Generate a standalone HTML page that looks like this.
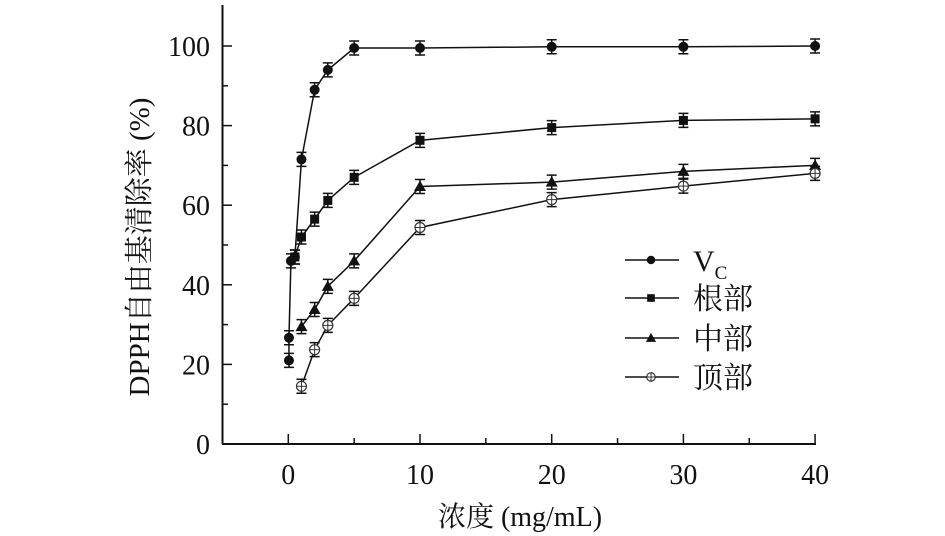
<!DOCTYPE html>
<html><head><meta charset="utf-8"><style>
body{margin:0;background:#fff}
svg{display:block}
text{font-family:"Liberation Serif","Noto Serif CJK SC",serif;fill:#111}
</style></head><body>
<svg id="c" width="945" height="536" viewBox="0 0 945 536"></svg>
<script>
const xTicks=[0,10,20,30,40];
const yTicks=[0,20,40,60,80,100];
const seriesNames=["V","根部","中部","顶部"];
const vcX=[0.05,0.05,0.2,0.5,1,2,3,5,10,20,30,40];
const vcY=[21,26.7,46,47,71.5,89,94,99.5,99.5,99.8,99.8,100];
const rootX=[0.5,1,2,3,5,10,20,30,40];
const rootY=[47,52,56.5,61.2,67,76.3,79.5,81.3,81.7];
const midX=[1,2,3,5,10,20,30,40];
const midY=[29.5,33.8,39.6,46,64.7,65.8,68.5,70];
const topX=[1,2,3,5,10,20,30,40];
const topY=[14.5,23.7,29.8,36.6,54.4,61.4,64.8,68];
const NS="http://www.w3.org/2000/svg";
const svg=document.getElementById('c');
const X=v=>288.3+v*13.17, Y=v=>444-v*3.98;
function mk(t,a,p){const e=document.createElementNS(NS,t);for(const k in a)e.setAttribute(k,a[k]);(p||svg).appendChild(e);return e;}
let ax=mk('g',{});


mk('line',{x1:222.5,y1:5,x2:222.5,y2:444,stroke:'#111','stroke-width':2},ax);
mk('line',{x1:222,y1:444,x2:816,y2:444,stroke:'#111','stroke-width':2},ax);
for(let v=0;v<=100;v+=10){mk('line',{x1:222,y1:Y(v),x2:v%20?228:232,y2:Y(v),stroke:'#111','stroke-width':1.5},ax);}
yTicks.forEach(v=>{const t=mk('text',{x:210,y:Y(v)+10,'text-anchor':'end','font-size':28},ax);t.textContent=v;

});
for(let v=-5;v<=40;v+=5){mk('line',{x1:X(v),y1:444,x2:X(v),y2:v%10?438:434,stroke:'#111','stroke-width':1.5},ax);}
xTicks.forEach(v=>{const t=mk('text',{x:X(v),y:484,'text-anchor':'middle','font-size':28},ax);t.textContent=v;

});
let xt=mk('text',{x:520,y:526,'text-anchor':'middle','font-size':28});xt.textContent='浓度 (mg/mL)';


let yt=mk('text',{x:0,y:0,'text-anchor':'middle','font-size':29,transform:'translate(149,247) rotate(-90)'});yt.textContent='DPPH自由基清除率 (%)';


function marker(type,cx,cy,g,s){
 s=s||1;
 if(type==='c')mk('circle',{cx,cy,r:5*s,fill:'#111'},g);
 else if(type==='s')mk('rect',{x:cx-4.5*s,y:cy-4.5*s,width:9*s,height:9*s,fill:'#111'},g);
 else if(type==='t')mk('polygon',{points:`${cx},${cy-6*s} ${cx-6*s},${cy+4.5*s} ${cx+6*s},${cy+4.5*s}`,fill:'#111'},g);
 else{mk('circle',{cx,cy,r:5*s,fill:'#fff',stroke:'#333','stroke-width':1.2},g);mk('line',{x1:cx-5*s,y1:cy,x2:cx+5*s,y2:cy,stroke:'#333','stroke-width':1},g);mk('line',{x1:cx,y1:cy-5*s,x2:cx,y2:cy+5*s,stroke:'#333','stroke-width':1},g);}
}
const all=[[vcX,vcY,'c','series-vc'],[rootX,rootY,'s','series-root'],[midX,midY,'t','series-middle'],[topX,topY,'o','series-top']];
all.forEach(([xs,ys,m,n])=>{
 const g=mk('g',{});
 
 
 mk('polyline',{points:xs.map((x,i)=>X(x)+','+Y(ys[i])).join(' '),fill:'none',stroke:'#111','stroke-width':1.5},g);
 xs.forEach((x,i)=>{const cx=X(x),cy=Y(ys[i]);
  mk('path',{d:`M${cx},${cy-7}V${cy+7}M${cx-5},${cy-7}H${cx+5}M${cx-5},${cy+7}H${cx+5}`,stroke:'#111','stroke-width':1.5,fill:'none'},g);
  marker(m,cx,cy,g);});
});
const lg=mk('g',{});


const ly=[260,298,338,377],lm=['c','s','t','o'];
seriesNames.forEach((n,i)=>{
 const e=mk('g',{},lg);
 
 
 mk('line',{x1:625,y1:ly[i],x2:679,y2:ly[i],stroke:'#111','stroke-width':1.5},e);
 marker(lm[i],651,ly[i],e,0.85);
 const t=mk('text',{x:693,y:ly[i]+11,'font-size':30},e);t.textContent=n;
 if(i===0){const s=mk('tspan',{'font-size':19,dy:8},t);s.textContent='C';}
});
</script>
</body></html>
